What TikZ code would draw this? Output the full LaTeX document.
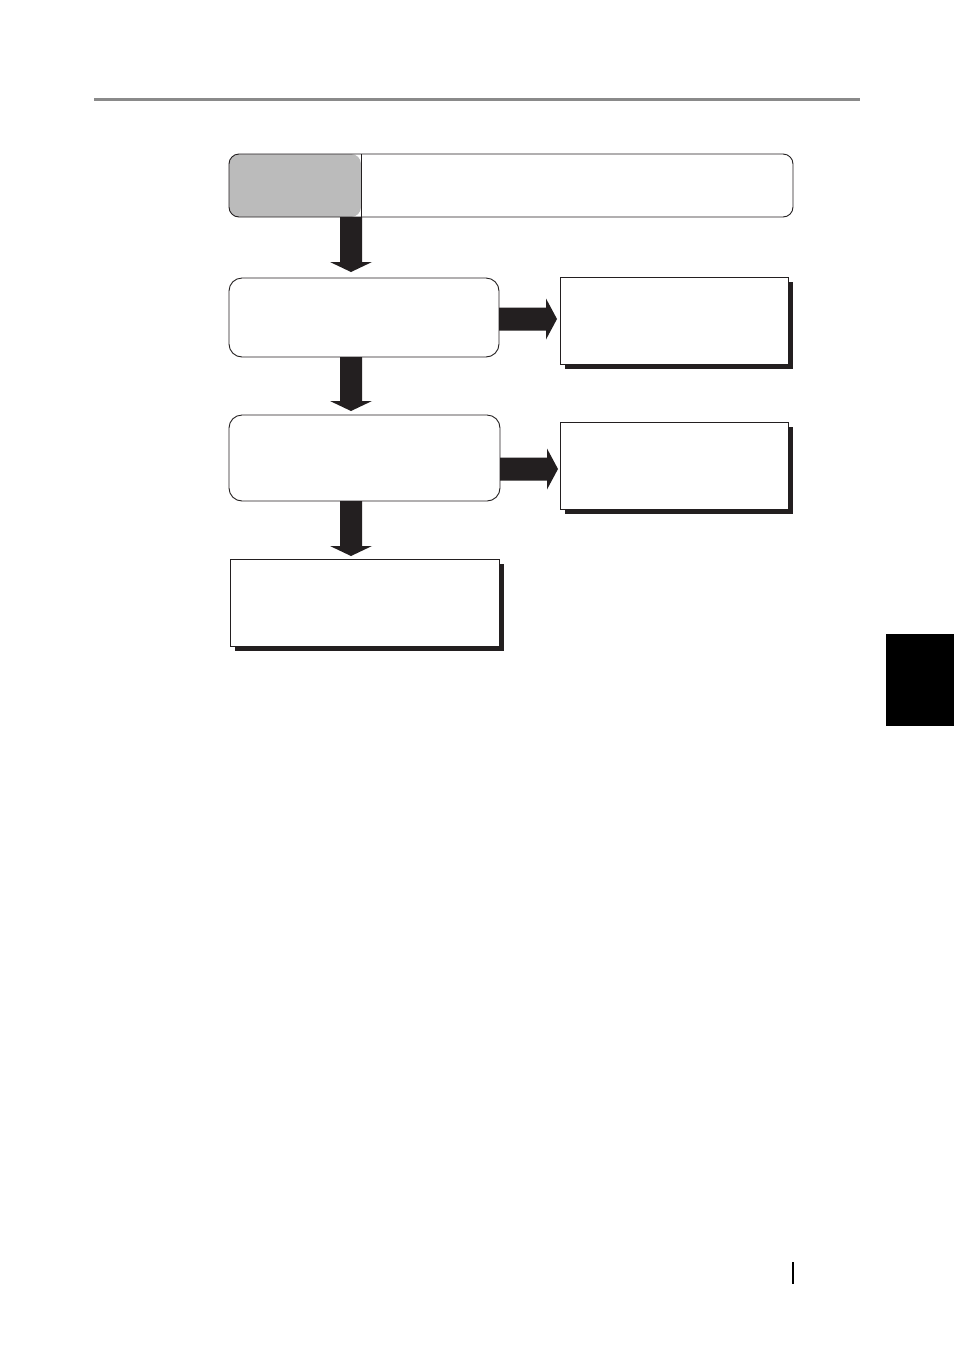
\documentclass[tikz,border=0pt]{standalone}
\usetikzlibrary{calc,shadows}
\definecolor{ink}{HTML}{231F20}
\definecolor{panel}{HTML}{BBBBBB}
\definecolor{rulec}{HTML}{8A8A8A}
\newcommand\fatdown[2]{%
  \fill[ink] ($(#1)+(-11,0)$) -- ($(#2)+(-11,-10)$) -- ($(#2)+(-21,-10)$) -- (#2)
    -- ($(#2)+(21,-10)$) -- ($(#2)+(11,-10)$) -- ($(#1)+(11,0)$) -- cycle;}
\newcommand\fatright[2]{%
  \fill[ink] ($(#1)+(0,-11.5)$) -- ($(#2)+(-11,-11.5)$) -- ($(#2)+(-11,-20.5)$) -- (#2)
    -- ($(#2)+(-11,20.5)$) -- ($(#2)+(-11,11.5)$) -- ($(#1)+(0,11.5)$) -- cycle;}
\begin{document}
\begin{tikzpicture}[x=1pt,y=-1pt,
  rbox/.style={draw=ink, line width=0.9pt, rounded corners=13pt, fill=white,
    inner sep=0pt, outer sep=0pt, anchor=north west},
  sbox/.style={draw=ink, line width=0.9pt, fill=white, inner sep=0pt, outer sep=0pt,
    anchor=north west,
    drop shadow={opacity=1, fill=ink, draw=none, shadow xshift=4.5pt, shadow yshift=-4.5pt}}]
\useasboundingbox (0,0) rectangle (954,1350);
\fill[white] (0,0) rectangle (954,1350);
% header rule
\draw[rulec, line width=3pt] (94,99) -- (860,99);
% top box with grey panel
\node[rbox, rounded corners=10pt, minimum width=564pt, minimum height=63pt,
  path picture={\fill[panel] (path picture bounding box.north west) rectangle
      ($(path picture bounding box.south west)+(132,0)$);
    \draw[ink, line width=0.9pt] ($(path picture bounding box.north west)+(132,0)$) --
      ($(path picture bounding box.south west)+(132,0)$);}] (T) at (229,154) {};
% boxes
\node[rbox, minimum width=270pt, minimum height=79pt] (B2) at (229,278) {};
\node[sbox, minimum width=228pt, minimum height=87pt] (B3) at (560,277) {};
\node[rbox, minimum width=271pt, minimum height=86pt] (B4) at (229,415) {};
\node[sbox, minimum width=228pt, minimum height=87pt] (B5) at (560,422) {};
\node[sbox, minimum width=269pt, minimum height=87pt] (B6) at (230,559) {};
% arrow anchors
\coordinate (ax) at (351,0);
\coordinate (d1s) at (T.south -| ax);
\coordinate (d1e) at ($(B2.north -| ax)+(0,-6)$);
\coordinate (d2s) at (B2.south -| ax);
\coordinate (d2e) at ($(B4.north -| ax)+(0,-4)$);
\coordinate (d3s) at (B4.south -| ax);
\coordinate (d3e) at ($(B6.north -| ax)+(0,-3)$);
\coordinate (r1y) at (0,319);
\coordinate (r1s) at (B2.east |- r1y);
\coordinate (r1e) at ($(B3.west |- r1y)+(-3,0)$);
\coordinate (r2y) at (0,469);
\coordinate (r2s) at (B4.east |- r2y);
\coordinate (r2e) at ($(B5.west |- r2y)+(-2,0)$);
\fatdown{d1s}{d1e}
\fatdown{d2s}{d2e}
\fatdown{d3s}{d3e}
\fatright{r1s}{r1e}
\fatright{r2s}{r2e}
% side tab and page marker
\fill[black] (886,634) rectangle (954,726);
\draw[black, line width=1.2pt] (793,1262) -- (793,1284);
\end{tikzpicture}
\end{document}
